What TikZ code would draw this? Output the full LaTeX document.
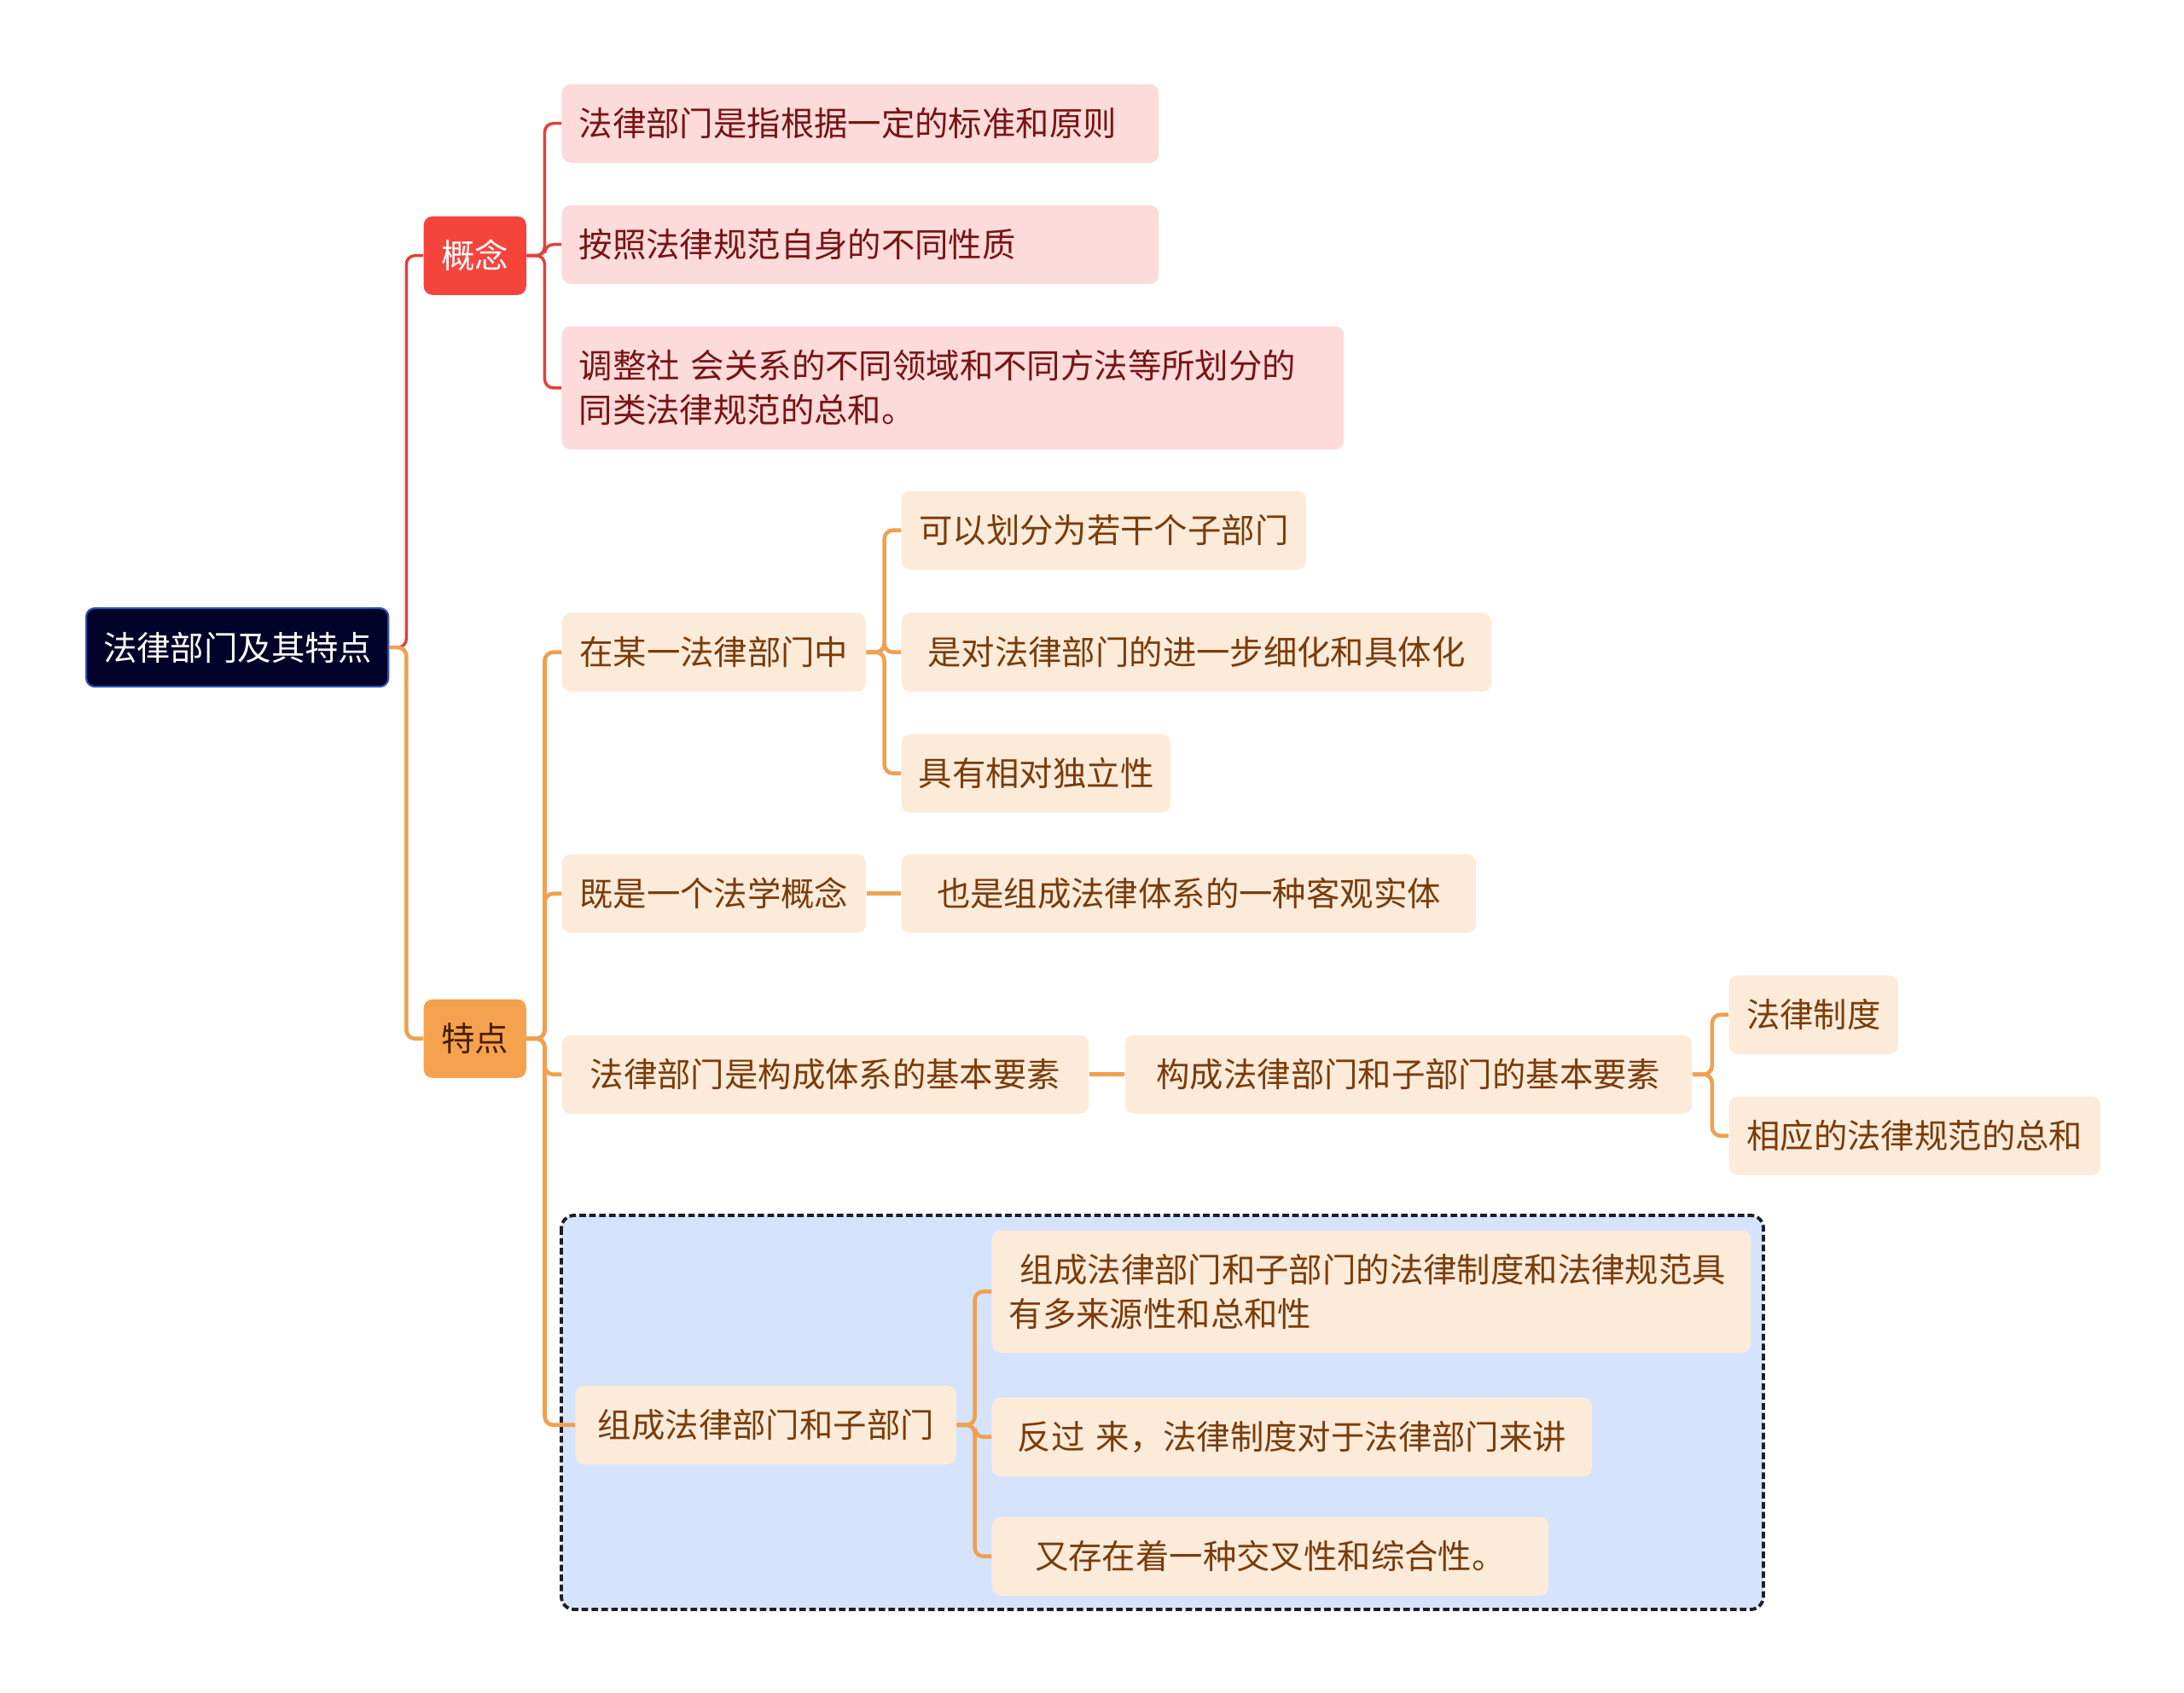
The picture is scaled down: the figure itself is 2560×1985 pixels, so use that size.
\documentclass[tikz,border=0pt]{standalone}
\usepackage{fontspec}
\setmainfont{Noto Sans CJK SC}
\begin{document}
\begin{tikzpicture}[x=0.01cm, y=-0.01cm,
    % Colors
    croot/.style={fill={rgb,255:red,2;green,3;blue,40}, draw={rgb,255:red,50;green,80;blue,180}},
    cred/.style={fill={rgb,255:red,245;green,68;blue,60}},
    corange/.style={fill={rgb,255:red,245;green,162;blue,78}},
    cpink/.style={fill={rgb,255:red,253;green,219;blue,219}, text={rgb,255:red,120;green,20;blue,20}},
    ccream/.style={fill={rgb,255:red,253;green,235;blue,218}, text={rgb,255:red,122;green,60;blue,10}},
    % Styles
    box/.style={rounded corners=0.1cm, inner xsep=0.2cm, inner ysep=0pt, anchor=north west,
                align=center, minimum height=0.92cm, font=\fontsize{11.2}{14.8}\selectfont},
    pinkbox/.style={box, cpink},
    creambox/.style={box, ccream},
    redline/.style={draw={rgb,255:red,225;green,65;blue,58}, line width=1pt, rounded corners=0.1cm},
    orangeline/.style={draw={rgb,255:red,240;green,160;blue,80}, line width=1.3pt, rounded corners=0.1cm},
    groupbox/.style={fill={rgb,255:red,213;green,228;blue,252}, draw={rgb,255:red,30;green,30;blue,40},
                     line width=1.1pt, dash pattern=on 2.2pt off 1.1pt, rounded corners=0.15cm},
  ]
  \useasboundingbox (0,0) rectangle (2560,1985);

  % Group background
  \draw[groupbox] (658,1425) rectangle (2067,1887);

  % Root
  \node[box, croot, line width=0.6pt, text=white, text width=3.14cm] (root) at (100,712) {法律部门及其特点};

  % Main topics
  \node[box, cred, text=white, text width=0.8cm] (gainian) at (496,253) {概念};
  \node[box, corange, text={rgb,255:red,70;green,30;blue,0}, text width=0.8cm] (tedian) at (496,1171) {特点};

  % Concept
  \node[pinkbox, align=left, text width=6.59cm] (c1) at (658,98) {法律部门是指根据一定的标准和原则};
  \node[pinkbox, align=left, text width=6.59cm] (c2) at (658,240) {按照法律规范自身的不同性质};
  \node[pinkbox, align=left, text width=8.76cm, minimum height=1.44cm] (c3) at (658,382)
    {调整社 会关系的不同领域和不同方法等所划分的\\同类法律规范的总和。};

  % Features
  \node[creambox, text width=3.16cm] (f1) at (658,718) {在某一法律部门中};
  \node[creambox, text width=4.34cm] (f1a) at (1056,575) {可以划分为若干个子部门};
  \node[creambox, text width=6.51cm] (f1b) at (1056,718) {是对法律部门的进一步细化和具体化};
  \node[creambox, text width=2.75cm] (f1c) at (1056,860) {具有相对独立性};

  \node[creambox, text width=3.16cm] (f2) at (658,1001) {既是一个法学概念};
  \node[creambox, text width=6.33cm] (f2a) at (1056,1001) {也是组成法律体系的一种客观实体};

  \node[creambox, text width=5.77cm] (f3) at (658,1213) {法律部门是构成体系的基本要素};
  \node[creambox, text width=6.24cm] (f3a) at (1318,1213) {构成法律部门和子部门的基本要素};
  \node[creambox, text width=1.58cm] (f3a1) at (2026,1143) {法律制度};
  \node[creambox, text width=3.95cm] (f3a2) at (2026,1285) {相应的法律规范的总和};

  \node[creambox, text width=4.06cm] (f4) at (674,1624) {组成法律部门和子部门};
  \node[creambox, align=left, text width=8.49cm, minimum height=1.43cm] (f4a) at (1162,1442)
    {~组成法律部门和子部门的法律制度和法律规范具\\有多来源性和总和性};
  \node[creambox, text width=6.63cm] (f4b) at (1162,1638) {反过 来，法律制度对于法律部门来讲};
  \node[creambox, text width=6.12cm] (f4c) at (1162,1778) {又存在着一种交叉性和综合性。};

  % Connectors
  \draw[redline] (root.east) -- ++(20,0) |- (gainian.west);
  \draw[orangeline] (root.east) -- ++(20,0) |- (tedian.west);
  \foreach \n in {c1,c2,c3}
    \draw[redline] (gainian.east) -- ++(21,0) |- (\n.west);
  \foreach \n in {f1,f2,f3,f4}
    \draw[orangeline] (tedian.east) -- ++(21,0) |- (\n.west);
  \foreach \n in {f1a,f1b,f1c}
    \draw[orangeline] (f1.east) -- ++(21,0) |- (\n.west);
  \draw[orangeline] (f2) -- (f2a);
  \draw[orangeline] (f3) -- (f3a);
  \foreach \n in {f3a1,f3a2}
    \draw[orangeline] (f3a.east) -- ++(23,0) |- (\n.west);
  \foreach \n in {f4a,f4b,f4c}
    \draw[orangeline] (f4.east) -- ++(21,0) |- (\n.west);

\end{tikzpicture}
\end{document}
